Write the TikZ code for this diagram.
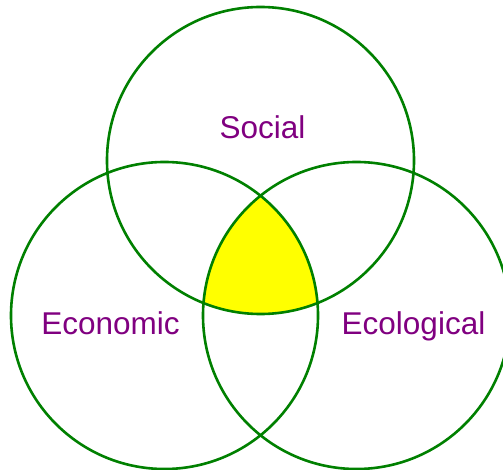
\documentclass[tikz,border=0pt]{standalone}
\usepackage{fontspec}
\setmainfont{Liberation Sans}
\definecolor{ringgreen}{RGB}{0,128,0}
\definecolor{labelpurple}{RGB}{128,0,128}
\definecolor{coreyellow}{RGB}{255,255,0}
\begin{document}
\begin{tikzpicture}[x=1pt,y=1pt,
  ring/.style={draw=ringgreen,line width=2.6pt},
  lbl/.style={text=labelpurple,font=\fontsize{31.5}{36}\selectfont,anchor=base,inner sep=0pt}]
\useasboundingbox (0,0) rectangle (503,469);
\coordinate (cs) at (260.5,308.5);
\coordinate (ce) at (164.5,153.5);
\coordinate (cl) at (356.5,153.5);
\begin{scope}
  \clip (cs) circle (153.5);
  \clip (ce) circle (153.5);
  \fill[coreyellow] (cl) circle (153.5);
\end{scope}
\draw[ring] (cs) circle (153.5);
\draw[ring] (ce) circle (153.5);
\draw[ring] (cl) circle (153.5);
\node[lbl] (social) at (262.5,330.7) {Social};
\node[lbl] (economic) at (110.5,134.7) {Economic};
\node[lbl] (ecological) at (413.5,134.7) {Ecological};
\end{tikzpicture}
\end{document}
